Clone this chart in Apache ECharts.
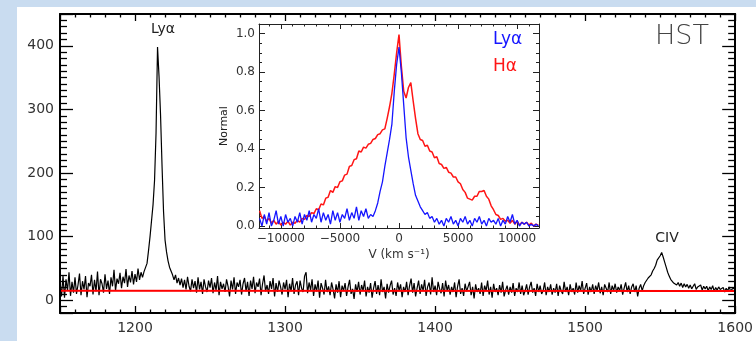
<!DOCTYPE html>
<html><head><meta charset="utf-8">
<script src="https://cdn.jsdelivr.net/npm/echarts@6/dist/echarts.min.js"></script>
<style>
html,body{margin:0;padding:0;background:#c9dcf0;overflow:hidden}
#bg{position:absolute;left:17px;top:7px;width:739px;height:334px;background:#fff}
#c{position:absolute;left:0;top:0;width:756px;height:341px}
</style>
</head><body><div id="bg"></div><div id="c"></div>
<script>
// ---- main HST spectrum (flux vs. wavelength, 1 Å grid) ----
const waveStart = 1150, waveStep = 1;
const fluxObs = [
30,6,38,4,33,15,44,7,29,12,
36,10,24,42,8,30,17,38,5,27,
22,40,9,32,14,45,8,33,26,12,
41,18,31,10,36,22,48,15,34,26,
43,19,37,27,49,21,39,28,46,25,
41,29,50,32,44,36,45,48,58,78,
100,125,150,188,262,398,352,292,212,140,
95,76,62,52,46,40,32,40,27,35,
24,34,20,32,17,37,22,14,33,19,
30,12,36,17,29,10,33,21,13,31,
20,35,11,28,16,38,8,29,18,26,
13,33,22,6,31,17,36,10,28,21,
32,9,26,35,14,29,7,31,18,37,
11,28,21,34,8,26,39,14,24,10,
30,18,35,6,27,13,31,21,9,28,
17,32,5,26,14,35,10,24,30,8,
31,19,13,38,44,11,28,16,33,7,
25,14,31,4,27,19,9,32,13,22,
8,28,17,3,25,12,30,5,23,15,
27,7,21,32,10,18,2,25,13,29,
9,24,15,31,6,21,12,27,4,19,
30,10,24,8,33,13,21,3,26,12,
23,31,9,19,7,28,15,25,5,21,
13,29,8,23,34,12,27,6,19,31,
10,25,15,32,7,21,28,9,36,13,
23,8,29,18,11,27,6,31,15,24,
9,21,13,28,5,22,33,10,19,7,
26,14,11,29,8,21,3,25,13,19,
10,28,7,23,15,31,9,21,4,26,
13,19,8,24,12,29,6,16,23,9,
21,12,27,7,19,13,28,10,23,8,
15,25,9,21,29,12,19,7,26,13,
23,10,15,28,8,21,13,25,9,19,
12,26,7,23,15,10,29,13,21,8,
25,13,19,9,28,12,23,15,30,10,
19,27,9,21,13,25,10,23,15,28,
11,21,8,25,19,13,28,10,23,15,
26,12,21,15,25,9,19,28,13,23,
10,21,26,13,23,6,19,25,15,23,
28,31,35,34,40,46,50,55,63,66,
70,75,68,60,52,44,38,33,30,27,
29,24,28,22,27,20,26,21,25,19,
24,18,22,26,17,21,19,24,16,22,
18,22,15,21,17,23,14,20,16,21,
17,14,20,13,19,15,21,14,18,16,
19];
const contWave = [1150, 1600];
const contFlux = [15, 14.5];

// ---- inset: normalised profiles vs. velocity (200 km/s grid) ----
const velStart = -11800, velStep = 200;
const lyaNorm = [
0.04,0.00,0.06,0.01,0.07,0.00,0.03,0.08,0.01,0.05,
0.00,0.06,0.02,0.04,0.00,0.05,0.02,0.07,0.01,0.06,
0.03,0.08,0.02,0.06,0.04,0.09,0.02,0.07,0.03,0.06,
0.01,0.08,0.03,0.07,0.02,0.06,0.04,0.09,0.03,0.07,
0.04,0.10,0.03,0.08,0.05,0.09,0.04,0.06,0.05,0.08,
0.12,0.18,0.23,0.31,0.38,0.45,0.53,0.70,0.84,0.93,
0.80,0.63,0.46,0.36,0.29,0.22,0.16,0.13,0.10,0.08,
0.06,0.07,0.04,0.05,0.02,0.04,0.01,0.03,0.00,0.04,
0.02,0.05,0.01,0.03,0.00,0.04,0.02,0.05,0.01,0.03,
0.00,0.04,0.02,0.05,0.01,0.03,0.00,0.04,0.02,0.03,
0.01,0.04,0.00,0.03,0.01,0.05,0.02,0.06,0.01,0.03,
0.00,0.02,0.01,0.02,0.00,0.01,0.00,0.01,0.00];
const haNorm = [
0.080,0.040,0.050,0.025,0.040,0.015,0.030,0.010,0.025,0.005,
0.020,0.010,0.025,0.005,0.020,0.015,0.030,0.020,0.040,0.035,
0.055,0.050,0.070,0.065,0.090,0.085,0.115,0.110,0.145,0.150,
0.185,0.175,0.205,0.200,0.230,0.235,0.265,0.270,0.310,0.315,
0.345,0.350,0.390,0.385,0.410,0.405,0.425,0.430,0.450,0.455,
0.475,0.480,0.500,0.505,0.560,0.620,0.690,0.790,0.900,0.995,
0.830,0.700,0.665,0.720,0.745,0.650,0.560,0.480,0.450,0.445,
0.415,0.420,0.390,0.385,0.355,0.360,0.325,0.320,0.300,0.305,
0.280,0.275,0.255,0.255,0.230,0.220,0.190,0.175,0.145,0.140,
0.135,0.155,0.155,0.180,0.180,0.185,0.155,0.140,0.105,0.085,
0.060,0.055,0.035,0.040,0.025,0.030,0.015,0.030,0.010,0.025,
0.005,0.020,0.010,0.020,0.005,0.015,0.000,0.010,0.005];

// ---- tick labels ----
const mainXTicks = [1200,1300,1400,1500,1600];
const mainYTicks = [0,100,200,300,400];
const insetXTicks = [-10000,-5000,0,5000,10000];
const insetYTicks = [0,0.2,0.4,0.6,0.8,1.0];

const mainData = fluxObs.map((f,i)=>[waveStart+i*waveStep,f]);
const contData = contWave.map((w,i)=>[w,contFlux[i]]);
const lyaData = lyaNorm.map((f,i)=>[velStart+i*velStep,f]);
const haData = haNorm.map((f,i)=>[velStart+i*velStep,f]);

const F = 'DejaVu Sans';
const has = (arr,v)=>arr.some(t=>Math.abs(t-v)<1e-6);
function ax(o){
  const c = o.lc||'#000';
  return {type:'value', gridIndex:o.g, position:o.pos, min:o.min, max:o.max, splitNumber:5, z:5,
    axisLine:{show:true, onZero:false, lineStyle:{color:c, width:o.lw||2}},
    axisTick:{show:true, inside:true, length:o.len, lineStyle:{color:c, width:o.tw||1.3}},
    minorTick:{show:true, splitNumber:o.ms, length:o.mlen, lineStyle:{color:c, width:o.tw||1.3}},
    axisLabel: o.labels ? {show:true, fontFamily:F, fontSize:o.fs, color:'#333', margin:o.margin,
       showMinLabel:true, showMaxLabel:true, hideOverlap:false,
       formatter:v=>has(o.ticks,v)?o.fmt(v):''} : {show:false},
    splitLine:{show:false}, minorSplitLine:{show:false}};
}
const fmtInt = v=>String(v);
const fmtVel = v=>(v<0?'\u2212':'')+Math.abs(v);
const fmtNorm = v=>v.toFixed(1);
const xAxes = [
  ax({g:0,pos:'bottom',min:1150,max:1600,len:7,ms:10,mlen:3.5,labels:1,ticks:mainXTicks,fmt:fmtInt,fs:14,margin:8}),
  ax({g:0,pos:'top',min:1150,max:1600,len:7,ms:10,mlen:3.5}),
  ax({g:1,pos:'bottom',min:-11850,max:11850,lw:1,lc:'#222',tw:1,len:5,ms:5,mlen:2.5,labels:1,ticks:insetXTicks,fmt:fmtVel,fs:12,margin:5}),
  ax({g:1,pos:'top',min:-11850,max:11850,lw:1,lc:'#222',tw:1,len:5,ms:5,mlen:2.5})
];
const yAxes = [
  ax({g:0,pos:'left',min:-20,max:450,len:13,ms:10,mlen:7,labels:1,ticks:mainYTicks,fmt:fmtInt,fs:14,margin:6}),
  ax({g:0,pos:'right',min:-20,max:450,len:13,ms:10,mlen:7}),
  ax({g:1,pos:'left',min:-0.01,max:1.05,lw:1,lc:'#222',tw:1,len:6,ms:4,mlen:3,labels:1,ticks:insetYTicks,fmt:fmtNorm,fs:12,margin:4}),
  ax({g:1,pos:'right',min:-0.01,max:1.05,lw:1,lc:'#222',tw:1,len:6,ms:4,mlen:3})
];

const chart = echarts.init(document.getElementById('c'), null, {renderer:'canvas'});
chart.setOption({
  animation:false,
  backgroundColor:'transparent',
  grid:[
    {left:60, top:14, right:17, bottom:28, show:false},
    {left:259, top:24, right:217, bottom:113, show:false}
  ],
  xAxis:xAxes,
  yAxis:yAxes,
  graphic:[
    {type:'text', x:163, y:29, style:{text:'Ly\u03b1', font:'14px "DejaVu Sans"', fill:'#222', align:'center', verticalAlign:'middle'}},
    {type:'text', x:667, y:238, style:{text:'CIV', font:'14px "DejaVu Sans"', fill:'#222', align:'center', verticalAlign:'middle'}},
    {type:'text', x:709, y:37, style:{text:'HST', font:'200 27px "DejaVu Sans"', fill:'#444', align:'right', verticalAlign:'middle'}},
    {type:'text', x:493, y:40, style:{text:'Ly\u03b1', font:'17px "DejaVu Sans"', fill:'#1515ff', align:'left', verticalAlign:'middle'}},
    {type:'text', x:493, y:67, style:{text:'H\u03b1', font:'17px "DejaVu Sans"', fill:'#ff1515', align:'left', verticalAlign:'middle'}},
    {type:'text', x:399, y:255, style:{text:'V (km s\u207b\u00b9)', font:'12px "DejaVu Sans"', fill:'#333', align:'center', verticalAlign:'middle'}},
    {type:'text', x:224, y:126, rotation:Math.PI/2, style:{text:'Normal', font:'11px "DejaVu Sans"', fill:'#222', align:'center', verticalAlign:'middle'}}
  ],
  series:[
    {type:'line', xAxisIndex:0, yAxisIndex:0, data:mainData, symbol:'none', lineStyle:{color:'#000', width:1.2}, z:3},
    {type:'line', xAxisIndex:0, yAxisIndex:0, data:contData, symbol:'none', lineStyle:{color:'#ff0000', width:2}, z:4},
    {type:'line', xAxisIndex:2, yAxisIndex:2, data:haData, symbol:'none', lineStyle:{color:'#ff1515', width:1.5}, z:6},
    {type:'line', xAxisIndex:2, yAxisIndex:2, data:lyaData, symbol:'none', lineStyle:{color:'#1515ff', width:1.3}, z:7}
  ]
});
</script></body></html>
